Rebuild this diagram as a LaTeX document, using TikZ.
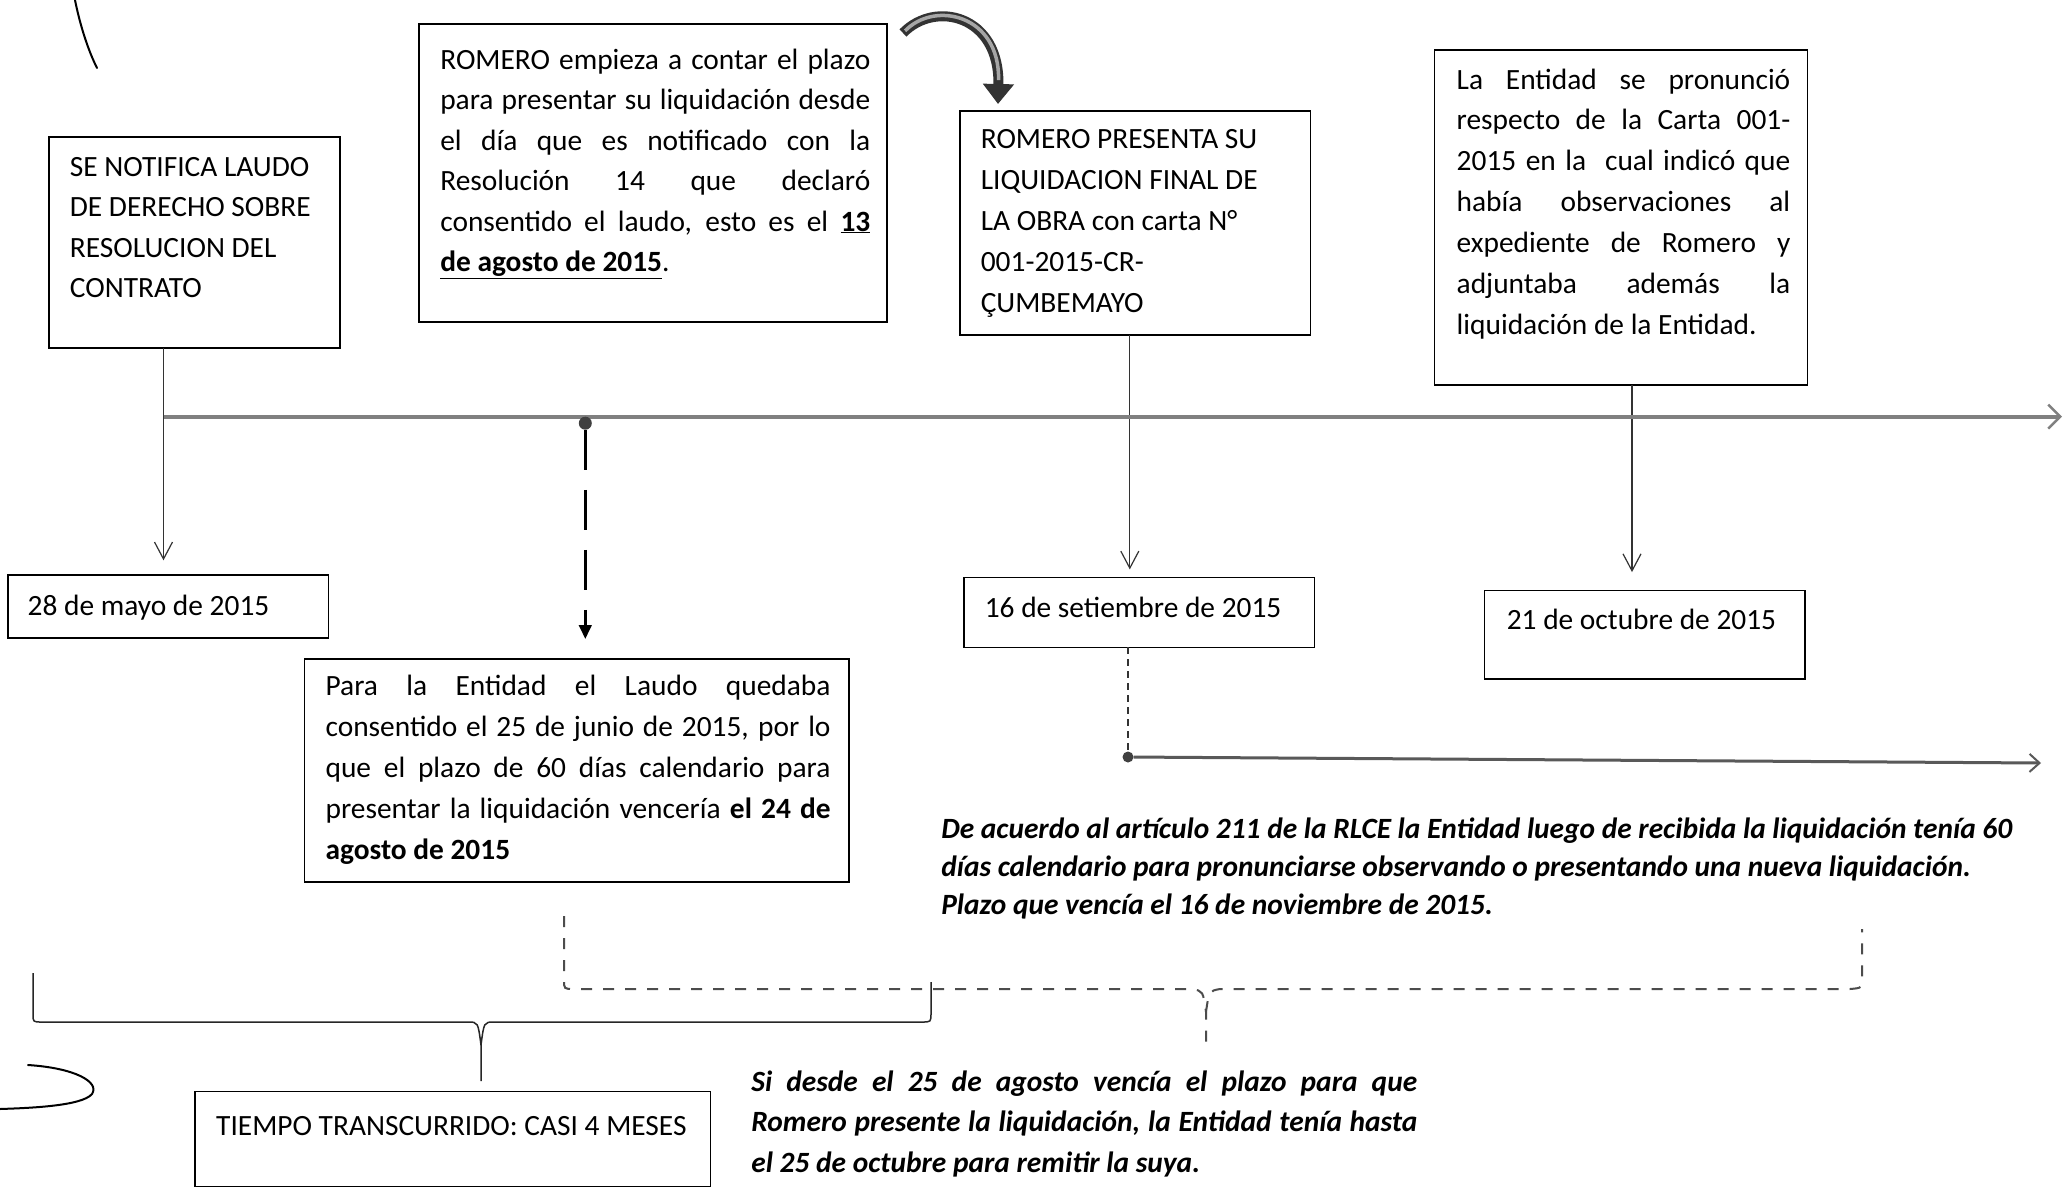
\documentclass[tikz,border=0pt]{standalone}
\usepackage{fontspec}
\setmainfont{Carlito}
\usetikzlibrary{arrows.meta}
\newdimen\jw
\newcommand\Jline[1]{\hbox to \jw{#1}}
\newcommand\Lline[1]{\hbox{#1}}
\newcommand\tblock[3]{\vtop{\jw=#1\relax\baselineskip=#2\relax\lineskiplimit=-100pt\relax #3}}
\begin{document}
\begin{tikzpicture}[x=1pt,y=-1pt,
  box/.style={draw=black, line width=1.6pt, anchor=north west, inner sep=0pt, outer sep=0pt},
  txt/.style={anchor=base west, inner sep=0pt, outer sep=0pt, font=\fontsize{29.4}{40.7}\selectfont},
  varrow/.style={draw=black!80, line width=1.2pt, -{Straight Barb[length=17pt,width=18pt,line width=1.2pt]}},
  timeline/.style={draw=black!50, line width=4pt, -{Straight Barb[length=12pt,width=24pt,line width=2.5pt]}},
  dot/.style={circle, fill=black!75, inner sep=0pt, minimum size=13pt},
  bigdash/.style={draw=black, line width=3.5pt, dash pattern=on 40pt off 20pt, -{Triangle[length=14pt,width=12pt]}},
  thindash/.style={draw=black!80, line width=1.2pt, dash pattern=on 7pt off 5pt},
  harrow/.style={draw=black!65, line width=3pt, -{Straight Barb[length=10pt,width=18pt,line width=2pt]}},
  dbrace/.style={draw=black!70, line width=2pt, dash pattern=on 11pt off 11pt},
  sbrace/.style={draw=black!85, line width=1.5pt},
  pen/.style={draw=black, line width=2pt, line cap=round},
  curarrow/.style={draw=black!80, line width=10pt, -{Triangle[length=20pt,width=30pt]}},
]
\fill[white] (0,0) rectangle (2067,1192);
\useasboundingbox (0,0) rectangle (2067,1192);

% boxes
\node[box, minimum width=291.3pt, minimum height=210.9pt] (bA) at (48.8,137.1) {};
\node[box, minimum width=468pt, minimum height=298pt] (bB) at (419.2,23.7) {};
\node[box, minimum width=350.7pt, minimum height=224.2pt] (bC) at (959.7,110.7) {};
\node[box, minimum width=373.1pt, minimum height=334.8pt] (bD) at (1434.3,50.1) {};
\node[box, minimum width=320.4pt, minimum height=63.3pt] (b28) at (7.9,574.8) {};
\node[box, minimum width=350.6pt, minimum height=69.9pt] (b16) at (963.7,577.4) {};
\node[box, minimum width=320.3pt, minimum height=88.3pt] (b21) at (1484.4,590.6) {};
\node[box, minimum width=544.5pt, minimum height=222.8pt] (bP) at (304.5,659.2) {};
\node[box, minimum width=515.5pt, minimum height=94.9pt] (bT) at (195.1,1091.6) {};

% texts
\node[txt] (tA) at (69.9,176) {\tblock{300pt}{40.5pt}{%
\Lline{SE NOTIFICA LAUDO}\Lline{DE DERECHO SOBRE}\Lline{RESOLUCION DEL}\Lline{CONTRATO}}};
\node[txt] (tB) at (440.3,69) {\tblock{430pt}{40.5pt}{%
\Jline{ROMERO empieza a contar el plazo}%
\Jline{para presentar su liquidación desde}%
\Jline{el día que es notificado con la}%
\Jline{Resolución 14 que declaró}%
\Jline{consentido el laudo, esto es el \underline{\textbf{13}}}%
\Lline{\underline{\textbf{de agosto de 2015}}.}}};
\node[txt] (tC) at (980.8,148.5) {\tblock{330pt}{40.9pt}{%
\Lline{ROMERO PRESENTA SU}\Lline{LIQUIDACION FINAL DE}\Lline{LA OBRA con carta N°}\Lline{001-2015-CR-}\Lline{ÇUMBEMAYO}}};
\node[txt] (tD) at (1456.7,89) {\tblock{333.6pt}{40.9pt}{%
\Jline{La Entidad se pronunció}%
\Jline{respecto de la Carta 001-}%
\Jline{2015 en la\ \ cual indicó que}%
\Jline{había observaciones al}%
\Jline{expediente de Romero y}%
\Jline{adjuntaba además la}%
\Lline{liquidación de la Entidad.}}};
\node[txt] (tP) at (325.6,695.5) {\tblock{505pt}{41.1pt}{%
\Jline{Para la Entidad el Laudo quedaba}%
\Jline{consentido el 25 de junio de 2015, por lo}%
\Jline{que el plazo de 60 días calendario para}%
\Jline{presentar la liquidación vencería \textbf{el 24 de}}%
\Lline{\textbf{agosto de 2015}}}};
\node[txt] (t28) at (27.7,615) {28 de mayo de 2015};
\node[txt] (t16) at (984.8,617) {16 de setiembre de 2015};
\node[txt] (t21) at (1506.8,629) {21 de octubre de 2015};
\node[txt] (tT) at (216.2,1135) {TIEMPO TRANSCURRIDO: CASI 4 MESES};
\node[txt, font=\fontsize{29.4}{38.3}\selectfont\bfseries\itshape] (tR) at (941.3,838) {\tblock{1100pt}{38.3pt}{%
\Lline{De acuerdo al artículo 211 de la RLCE la Entidad luego de recibida la liquidación tenía 60}%
\Lline{días calendario para pronunciarse observando o presentando una nueva liquidación.}%
\Lline{Plazo que vencía el 16 de noviembre de 2015.}}};
\node[txt, font=\fontsize{29.4}{40.9}\selectfont\bfseries\itshape] (tS) at (751.4,1091) {\tblock{665.8pt}{40.9pt}{%
\Jline{Si desde el 25 de agosto vencía el plazo para que}%
\Jline{Romero presente la liquidación, la Entidad tenía hasta}%
\Lline{el 25 de octubre para remitir la suya.}}};

% connectors
\coordinate (xA) at (163.5,0);
\coordinate (xC) at (1129.8,0);
\coordinate (xD) at (1632,0);
\coordinate (tl0) at (163.5,416.6);
\coordinate (tl1) at (2062,416.6);
\draw[varrow, shorten >=14.5pt] (xA |- bA.south) -- (xA |- b28.north);
\draw[varrow, shorten >=8pt] (xC |- bC.south) -- (xC |- b16.north);
\draw[varrow, shorten >=18.5pt] (xD |- bD.south) -- (xD |- b21.north);
\draw[timeline] (tl0) -- (tl1);

\node[dot] (d1) at (585.3,423.2) {};
\draw[bigdash, shorten >=20pt] (d1.south) -- (d1.south |- bP.north);

\node[dot, minimum size=11pt] (d2) at (1128,757) {};
\draw[thindash] (d2 |- b16.south) -- (d2.north);
\coordinate (h1) at (2041,763);
\draw[harrow] (d2) -- (h1);

% curved arrow from box B to box C
\coordinate (ca0) at (903,33);
\coordinate (ca1) at (998,104);
\draw[curarrow] (ca0) .. controls (935,0) and (1000,15) .. (ca1);
\draw[draw=black!35, line width=3.5pt, shorten >=24pt, shorten <=3pt] (ca0) .. controls (935,0) and (1000,15) .. (ca1);

% solid brace
\draw[sbrace] (33,973) -- (33,1014) .. controls (33,1022) .. (42,1022) -- (468,1022) .. controls (478,1022) .. (481,1045) -- (481,1081);
\draw[sbrace] (481,1045) .. controls (484,1022) .. (494,1022) -- (922,1022) .. controls (931,1022) .. (931,1013) -- (931,982);

% dashed brace
\draw[dbrace] (564,916) -- (564,980) .. controls (564,989) .. (574,989) -- (1192,989) .. controls (1203,991) .. (1206,1012) -- (1206,1047);
\draw[dbrace] (1206,1012) .. controls (1209,991) .. (1220,989) -- (1850,989) .. controls (1862,988) .. (1862,978) -- (1862,929);

% pen marks
\draw[pen] (75,0) .. controls (80,25) and (88,50) .. (97,68);
\draw[pen] (28,1065) .. controls (75,1068) and (100,1082) .. (92,1094) .. controls (82,1106) and (30,1108) .. (0,1109);
\end{tikzpicture}
\end{document}
